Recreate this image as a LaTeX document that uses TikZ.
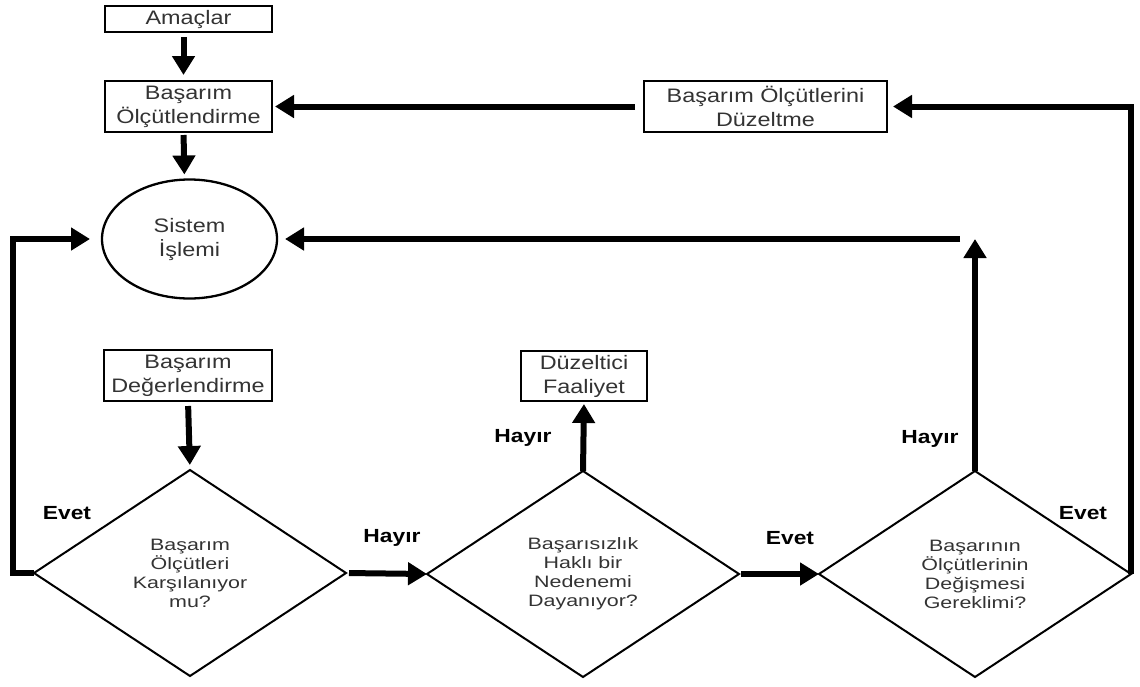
\documentclass[tikz,border=0pt]{standalone}
\usepackage{fontspec}
\setmainfont{Liberation Sans}
\newfontfamily\boxfont[FakeStretch=1.2]{Liberation Sans}
\newfontfamily\askfont[FakeStretch=1.3]{Liberation Sans}
\newfontfamily\tagfont[FakeStretch=1.2]{Liberation Sans}
\usetikzlibrary{shapes.geometric,arrows.meta}
\definecolor{ink}{HTML}{333333}
\begin{document}
\begin{tikzpicture}[x=1pt,y=1pt,
  stepbox/.style={draw, line width=2.4pt, inner sep=0pt, outer sep=0pt,
    text=ink, align=center, font=\boxfont\fontsize{19.5}{24}\selectfont},
  oval/.style={draw, ellipse, line width=2.3pt, inner sep=0pt, outer sep=0pt,
    minimum width=175pt, minimum height=119pt,
    text=ink, align=center, font=\boxfont\fontsize{19.5}{24}\selectfont},
  ask/.style={draw, diamond, line width=2pt, inner sep=0pt, outer sep=0pt,
    minimum width=312pt, minimum height=206pt,
    text=ink, align=center, font=\askfont\fontsize{16.5}{19}\selectfont},
  tag/.style={font=\tagfont\bfseries\fontsize{19}{22}\selectfont, text=black},
  flow/.style={line width=6pt, -{Triangle[width=22pt,length=19pt]}}
]
% page frame; positions below are measured from the top-left corner
\useasboundingbox (0,-686) rectangle (1140,0);

% process boxes
\node[stepbox, minimum width=167pt, minimum height=26pt] (amac) at (188.5,-19) {Amaçlar};
\node[stepbox, minimum width=167pt, minimum height=51pt] (olcut) at (188.5,-106.5) {Başarım\\Ölçütlendirme};
\node[oval] (sistem) at (189.5,-239) {Sistem\\İşlemi};
\node[stepbox, minimum width=168pt, minimum height=51pt] (degerl) at (188,-375.5) {Başarım\\Değerlendirme};
\node[stepbox, minimum width=126pt, minimum height=50pt] (faaliyet) at (584,-376) {Düzeltici\\Faaliyet};
\node[stepbox, minimum width=243pt, minimum height=51pt] (duzelt) at (765.5,-106.5) {Başarım Ölçütlerini\\Düzeltme};

% decisions
\node[ask] (d1) at (190,-573) {Başarım\\Ölçütleri\\Karşılanıyor\\mu?};
\node[ask] (d2) at (583,-574) {Başarısızlık\\Haklı bir\\Nedenemi\\Dayanıyor?};
\node[ask] (d3) at (975,-574) {Başarının\\Ölçütlerinin\\Değişmesi\\Gereklimi?};

% branch labels
\node[tag] (e1) at (67,-513) {Evet};
\node[tag] (h1) at (392,-538) {Hayır};
\node[tag] (h2) at (523,-438) {Hayır};
\node[tag] (e2) at (790,-538) {Evet};
\node[tag] (h3) at (930,-439) {Hayır};
\node[tag] (e3) at (1083,-513) {Evet};

% main flow
\draw[flow, shorten <=5pt, shorten >=6pt] ([xshift=-5pt]amac.south) -- ([xshift=-5pt]olcut.north);
\draw[flow, shorten <=3pt, shorten >=5pt] ([xshift=-5pt]olcut.south) -- ([xshift=-5pt]sistem.north);
\draw[flow, shorten <=5pt, shorten >=5pt] (degerl.south) -- (d1.north);

% decision exits
\draw[flow, shorten >=12pt] (d1.west) -- ++(-21,0) |- (sistem.west);
\draw[flow, shorten <=3pt] (d1.east) -- (d2.west);
\draw[flow, shorten >=3pt] (d2.north) -- (faaliyet.south);
\draw[flow, shorten <=2pt] (d2.east) -- (d3.west);

\coordinate (turn) at (d3.north |- sistem.east);
\draw[flow] (d3.north) -- (turn);
\draw[flow, shorten <=15pt, shorten >=8pt] (turn) -- (sistem.east);

\draw[flow, shorten >=6pt] (d3.east) |- (duzelt.east);
\draw[flow, shorten <=9pt, shorten >=3pt] (duzelt.west) -- (olcut.east);
\end{tikzpicture}
\end{document}
